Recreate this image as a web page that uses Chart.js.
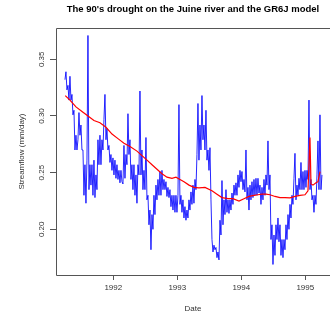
<!DOCTYPE html>
<html>
<head>
<meta charset="utf-8">
<script src="https://cdn.jsdelivr.net/npm/chart.js@4"></script>
<style>
	html, body { margin: 0; padding: 0; background: #fff; }
	canvas { display: block; }
</style>
</head>
<body>
<canvas id="drought_chart" width="330" height="315"></canvas>
<script>
// observed streamflow, one reading every ~5.7 days starting spring 1991 (mm/day)
const obs_start = 1991.245;
const obs_step = 1 / 64;
const observed = [
	0.332, 0.339, 0.323, 0.327, 0.314, 0.335, 0.314, 0.319, 0.301, 0.305,
	0.270, 0.283, 0.270, 0.279, 0.303, 0.283, 0.292, 0.270, 0.270, 0.230,
	0.257, 0.223, 0.261, 0.371, 0.235, 0.257, 0.239, 0.257, 0.230, 0.261,
	0.228, 0.248, 0.235, 0.279, 0.257, 0.283, 0.257, 0.279, 0.270, 0.297,
	0.319, 0.279, 0.289, 0.270, 0.274, 0.259, 0.266, 0.252, 0.263, 0.248,
	0.261, 0.245, 0.257, 0.244, 0.252, 0.241, 0.252, 0.242, 0.240, 0.274,
	0.245, 0.266, 0.257, 0.302, 0.266, 0.279, 0.244, 0.257, 0.235, 0.257,
	0.230, 0.248, 0.223, 0.257, 0.248, 0.322, 0.248, 0.270, 0.235, 0.252,
	0.235, 0.281, 0.226, 0.230, 0.204, 0.217, 0.182, 0.213, 0.200, 0.230,
	0.213, 0.239, 0.226, 0.244, 0.230, 0.251, 0.230, 0.252, 0.235, 0.244,
	0.235, 0.242, 0.229, 0.237, 0.228, 0.235, 0.220, 0.230, 0.217, 0.230,
	0.215, 0.230, 0.215, 0.230, 0.310, 0.222, 0.230, 0.215, 0.226, 0.210,
	0.220, 0.208, 0.217, 0.210, 0.226, 0.217, 0.233, 0.222, 0.239, 0.223,
	0.244, 0.235, 0.266, 0.311, 0.261, 0.292, 0.270, 0.318, 0.279, 0.292,
	0.270, 0.305, 0.261, 0.270, 0.252, 0.272, 0.226, 0.191, 0.180, 0.186,
	0.182, 0.184, 0.175, 0.180, 0.173, 0.208, 0.195, 0.243, 0.204, 0.226,
	0.213, 0.235, 0.215, 0.226, 0.214, 0.226, 0.217, 0.232, 0.222, 0.239,
	0.230, 0.241, 0.230, 0.248, 0.237, 0.252, 0.242, 0.251, 0.235, 0.244,
	0.233, 0.270, 0.226, 0.237, 0.217, 0.239, 0.226, 0.242, 0.228, 0.244,
	0.230, 0.245, 0.230, 0.245, 0.232, 0.239, 0.222, 0.237, 0.226, 0.244,
	0.230, 0.248, 0.239, 0.278, 0.235, 0.248, 0.191, 0.204, 0.169, 0.195,
	0.177, 0.204, 0.191, 0.210, 0.189, 0.204, 0.177, 0.191, 0.175, 0.191,
	0.182, 0.204, 0.191, 0.213, 0.200, 0.222, 0.210, 0.230, 0.222, 0.245,
	0.267, 0.226, 0.239, 0.230, 0.245, 0.235, 0.259, 0.235, 0.251, 0.235,
	0.252, 0.237, 0.252, 0.244, 0.314, 0.235, 0.244, 0.226, 0.230, 0.215,
	0.230, 0.222, 0.248, 0.278, 0.235, 0.301, 0.235, 0.248
];

// GR6J simulated streamflow (decimal year, mm/day)
const sim_dates = [
	1991.250, 1991.323, 1991.417, 1991.511, 1991.605, 1991.698, 1991.792, 1991.886,
	1991.980, 1992.073, 1992.167, 1992.261, 1992.370, 1992.448, 1992.527, 1992.605,
	1992.683, 1992.761, 1992.839, 1992.917, 1992.980, 1993.042, 1993.105, 1993.183,
	1993.261, 1993.339, 1993.433, 1993.542, 1993.620, 1993.698, 1993.792, 1993.870,
	1993.964, 1994.042, 1994.120, 1994.198, 1994.261, 1994.323, 1994.386, 1994.448,
	1994.527, 1994.605, 1994.683, 1994.761, 1994.839, 1994.917, 1994.995, 1995.042,
	1995.073, 1995.089, 1995.120, 1995.167, 1995.198, 1995.230
];
const simulated = [
	0.318, 0.314, 0.308, 0.304, 0.300, 0.296, 0.294, 0.290,
	0.284, 0.280, 0.276, 0.273, 0.269, 0.265, 0.261, 0.257,
	0.253, 0.249, 0.246, 0.245, 0.246, 0.244, 0.242, 0.239,
	0.237, 0.2365, 0.237, 0.234, 0.231, 0.228, 0.227, 0.227,
	0.225, 0.227, 0.229, 0.230, 0.2305, 0.231, 0.231, 0.2305,
	0.229, 0.228, 0.228, 0.2277, 0.229, 0.230, 0.2305, 0.234,
	0.281, 0.240, 0.239, 0.241, 0.242, 0.251
];

const year_ticks = [1992, 1993, 1994, 1995];
const flow_ticks = [0.20, 0.25, 0.30, 0.35];

const font_family = '"Liberation Sans", Arial, sans-serif';
const axis_color = '#555';

const observed_points = observed.map((v, i) => ({x: obs_start + i * obs_step, y: v}));
const simulated_points = sim_dates.map((d, i) => ({x: d, y: simulated[i]}));

// R style box and rotated y labels
const frame_plugin = {
	id: 'frame',
	afterDraw(chart) {
		const {ctx, chartArea: a} = chart;
		const ys = chart.scales.y;
		ctx.save();
		ctx.strokeStyle = axis_color;
		ctx.lineWidth = 1;
		ctx.beginPath();
		ctx.moveTo(a.left + 0.5, a.top + 0.5);
		ctx.lineTo(a.right, a.top + 0.5);
		ctx.moveTo(a.left + 0.5, a.top + 0.5);
		ctx.lineTo(a.left + 0.5, a.bottom + 0.5);
		ctx.lineTo(a.right, a.bottom + 0.5);
		ctx.stroke();

		ctx.fillStyle = '#333';
		ctx.font = '8px ' + font_family;
		ctx.textAlign = 'center';
		ctx.textBaseline = 'middle';
		ys.ticks.forEach(t => {
			const y = ys.getPixelForValue(t.value);
			ctx.save();
			ctx.translate(41.5, y);
			ctx.rotate(-Math.PI / 2);
			ctx.fillText(t.value.toFixed(2), 0, 0);
			ctx.restore();
		});
		ctx.restore();
	}
};

new Chart(document.getElementById('drought_chart'), {
	type: 'line',
	data: {
		datasets: [
			{
				label: 'GR6J',
				data: simulated_points,
				borderColor: '#ff0000',
				borderWidth: 1.2,
				pointRadius: 0,
				tension: 0,
				order: 0
			},
			{
				label: 'Observed',
				data: observed_points,
				borderColor: '#0000ff',
				borderWidth: 0.85,
				pointRadius: 0,
				tension: 0,
				order: 1
			}
		]
	},
	options: {
		responsive: false,
		animation: false,
		devicePixelRatio: 1,
		layout: { padding: 0 },
		plugins: {
			legend: { display: false },
			tooltip: { enabled: false },
			title: {
				display: true,
				text: "The 90's drought on the Juine river and the GR6J model",
				color: '#000',
				fullSize: false,
				font: { family: font_family, size: 9.5, weight: 'bold' },
				padding: { top: 3.8, bottom: 12.8 }
			}
		},
		scales: {
			x: {
				type: 'linear',
				min: 1991.105,
				max: 1995.386,
				afterBuildTicks: s => { s.ticks = year_ticks.map(v => ({value: v})); },
				afterFit: s => { s.height = 40; },
				border: { display: false },
				grid: { drawOnChartArea: false, drawTicks: true, tickLength: 5, color: axis_color },
				ticks: {
					color: '#333',
					font: { family: font_family, size: 8 },
					padding: 3,
					maxRotation: 0,
					callback: v => String(v)
				},
				title: {
					display: true,
					text: 'Date',
					color: '#333',
					font: { family: font_family, size: 8 },
					padding: { top: 0, bottom: 1 }
				}
			},
			y: {
				type: 'linear',
				min: 0.1597,
				max: 0.3776,
				afterBuildTicks: s => { s.ticks = flow_ticks.map(v => ({value: v})); },
				afterFit: s => { s.width = 56; },
				border: { display: false },
				grid: { drawOnChartArea: false, drawTicks: true, tickLength: 6, color: axis_color },
				ticks: { display: false },
				title: {
					display: true,
					text: 'Streamflow (mm/day)',
					color: '#333',
					font: { family: font_family, size: 8 },
					padding: { top: 17.3, bottom: 0 }
				}
			}
		}
	},
	plugins: [frame_plugin]
});
</script>
</body>
</html>
